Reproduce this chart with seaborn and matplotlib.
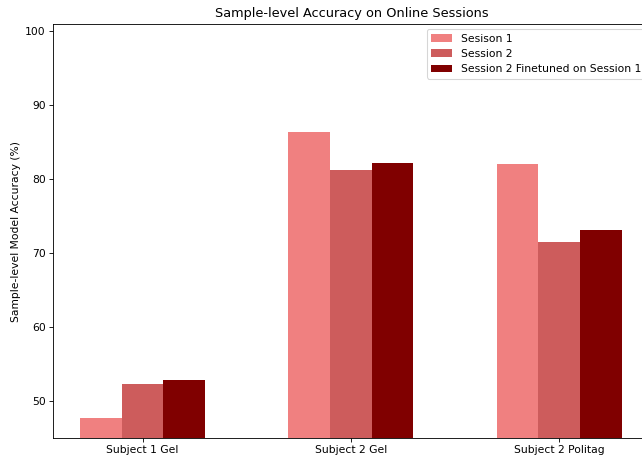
import pandas as pd
import matplotlib
matplotlib.use("Agg")
import matplotlib.pyplot as plt
import seaborn as sns

# Values
subjects = ["Subject 1 Gel", "Subject 2 Gel", "Subject 2 Politag"]
sessions = ["Sesison 1", "Session 2", "Session 2 Finetuned on Session 1"]
session1 = [47.7, 86.45, 82.0]
session2 = [52.3, 81.3, 71.45]
finetuned = [52.85, 82.15, 73.1]
colors = ["lightcoral", "indianred", "maroon"]

rows = []
for name, vals in zip(sessions, [session1, session2, finetuned]):
    for subj, v in zip(subjects, vals):
        rows.append({"subject": subj, "session": name, "accuracy": v})
df = pd.DataFrame(rows)

fig = plt.figure(figsize=(642 / 77, 458 / 77), dpi=77)
ax = fig.add_axes([53 / 642, 20 / 458, 598 / 642, 414 / 458])

sns.barplot(data=df, x="subject", y="accuracy", hue="session",
            hue_order=sessions, order=subjects, palette=colors,
            width=0.6, saturation=1, linewidth=0, ax=ax)

ax.set_xlim(-0.43, 2.44)
ax.set_ylim(45, 101)
ax.set_xlabel("")
ax.set_ylabel("Sample-level Model Accuracy (%)")
ax.set_title("Sample-level Accuracy on Online Sessions", pad=7)
ax.legend(loc="upper right", title=None)

fig.savefig("out.png", dpi=77)
